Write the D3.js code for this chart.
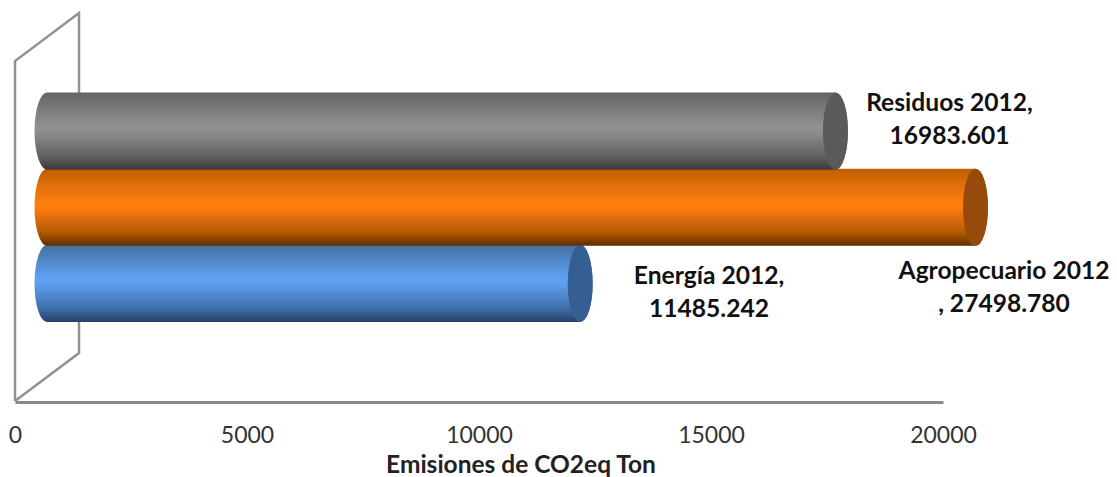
<!DOCTYPE html>
<html><head><meta charset="utf-8">
<script src="https://cdnjs.cloudflare.com/ajax/libs/d3/7.8.5/d3.min.js"></script>
<style>html,body{margin:0;background:#fff}svg{display:block}text{font-family:Lato,sans-serif}</style>
</head><body><div id="c"></div>
<script>
const categories = ["Energía 2012", "Agropecuario 2012", "Residuos 2012"];
const values = [11485.242, 27498.780, 16983.601];
const labelLines = [["Energía 2012,", "11485.242"], ["Agropecuario 2012", ", 27498.780"], ["Residuos 2012,", "16983.601"]];
const tickValues = [0, 5000, 10000, 15000, 20000];
const axisTitle = "Emisiones de CO2eq Ton";
const colors = [
  {top:"#45709f", mid:"#5ea0f0", low:"#3f6fa8", bottom:"#26406a", cap:"#365f92"},
  {top:"#c05e02", mid:"#fd7d0e", low:"#b65a05", bottom:"#5e2d02", cap:"#964b08"},
  {top:"#646464", mid:"#8f8f8f", low:"#626262", bottom:"#3a3a3a", cap:"#5a5a5a"}
];
const labelPos = [[709,284],[1004,279],[949.5,111]];

const W=1117,H=477;
const svg=d3.select("#c").append("svg").attr("width",W).attr("height",H);
const defs=svg.append("defs");
colors.forEach((c,i)=>{
  const g=defs.append("linearGradient").attr("id","g"+i).attr("x1",0).attr("x2",0).attr("y1",0).attr("y2",1);
  [[0,c.top],[.42,c.mid],[.5,c.mid],[.82,c.low],[1,c.bottom]].forEach(s=>g.append("stop").attr("offset",s[0]).attr("stop-color",s[1]));
});
const soft=defs.append("filter").attr("id","soft");soft.append("feGaussianBlur").attr("stdDeviation",0.5);

const x=d3.scaleLinear().domain([0,20000]).range([15,943]);
const depth={dx:64,dy:48};
const xBar=d3.scaleLinear().domain([0,20000]).range([47,975.5]).clamp(true);
const y=d3.scaleBand().domain(categories).range([321,92.5]);
const barH=y.bandwidth()+1, rx=12.5, ry=barH/2;

// 3D frame
const x0=x(0), yb=401, yt=61;
const wall=`M${x0},${yb}V${yt}L${x0+depth.dx},${yt-depth.dy}V${yb-depth.dy}L${x0},${yb}`;
svg.append("path").attr("d",wall).attr("fill","none").attr("stroke","#929292").attr("stroke-width",2.5);

// axis
const ax=svg.append("g").attr("transform",`translate(0,${yb+1})`)
  .call(d3.axisBottom(x).tickValues(tickValues).tickSize(0).tickPadding(25).tickFormat(d3.format("d")));
ax.select(".domain").attr("stroke","#8a8a8a").attr("stroke-width",3);
ax.selectAll("text").attr("font-size",23).attr("fill","#333").style("font-family","Lato,sans-serif");

// cylinders, back to front in the stacking of the picture
const bars=svg.append("g").attr("filter","url(#soft)").selectAll("g").data(categories).join("g");
bars.append("path").attr("fill",(d,i)=>`url(#g${i})`).attr("d",(d,i)=>{
  const t=y(d), b=t+barH, l=xBar(0), r=xBar(values[i]);
  return `M${l},${t}H${r}A${rx},${ry} 0 0 1 ${r},${b}H${l}A${rx},${ry} 0 0 1 ${l},${t}Z`;
});
bars.append("ellipse").attr("fill",(d,i)=>colors[i].cap)
  .attr("cx",(d,i)=>xBar(values[i])).attr("cy",d=>y(d)+barH/2).attr("rx",rx).attr("ry",ry);

// labels
const lab=svg.append("g").selectAll("text").data(categories).join("text")
  .attr("text-anchor","middle").attr("font-size",24.6).attr("font-weight",700).attr("fill","#111");
lab.each(function(d,i){
  d3.select(this).selectAll("tspan").data(labelLines[i]).join("tspan")
    .attr("x",labelPos[i][0]).attr("y",(t,k)=>labelPos[i][1]+k*32.5).text(t=>t);
});
svg.append("text").attr("x",521).attr("y",473).attr("text-anchor","middle").attr("font-size",24.5).attr("font-weight",700).attr("fill","#222").text(axisTitle);
</script></body></html>
